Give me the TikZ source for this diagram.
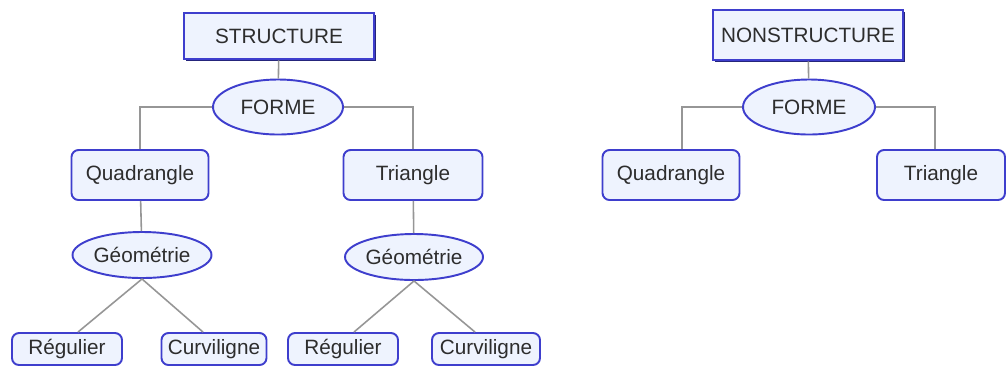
\documentclass[tikz,border=0pt]{standalone}
\usepackage{fontspec}
\setmainfont{Liberation Sans}
\usepackage{tikz}
\usetikzlibrary{shapes.geometric,shadows}

\definecolor{boxblue}{RGB}{62,62,205}
\definecolor{boxfill}{RGB}{238,243,254}
\definecolor{linegray}{RGB}{150,150,150}
\definecolor{textgray}{RGB}{45,45,45}

\begin{document}
\begin{tikzpicture}[x = 0.02cm, y = -0.02cm,
  every node/.style = {text = textgray, font = \fontsize{11.8}{14}\selectfont, inner sep = 0pt},
  headbox/.style = {draw = boxblue, line width = 1.6pt, fill = boxfill,
    drop shadow = {shadow xshift = 1.4pt, shadow yshift = -1.4pt, fill = boxblue!60!black, opacity = 1}},
  leafbox/.style = {draw = boxblue, line width = 1.1pt, fill = boxfill, rounded corners = 4pt},
  oval/.style = {ellipse, draw = boxblue, line width = 1.1pt, fill = boxfill},
  link/.style = {draw = linegray, line width = 0.9pt}]
\useasboundingbox (0,0) rectangle (1007,370);

% left tree
\node[headbox, minimum width = 190*0.02cm, minimum height = 46*0.02cm] (struct) at (279,36) {STRUCTURE};
\node[oval, minimum width = 130*0.02cm, minimum height = 55*0.02cm] (forme) at (278,107) {FORME};
\node[leafbox, minimum width = 137*0.02cm, minimum height = 50*0.02cm] (quad) at (140,175) {Quadrangle};
\node[leafbox, minimum width = 139*0.02cm, minimum height = 50*0.02cm] (tri) at (413,175) {Triangle};
\node[oval, minimum width = 139*0.02cm, minimum height = 46*0.02cm] (geoq) at (142,255) {Géométrie};
\node[oval, minimum width = 138*0.02cm, minimum height = 46*0.02cm] (geot) at (414,257) {Géométrie};
\node[leafbox, minimum width = 110*0.02cm, minimum height = 32*0.02cm] (regq) at (67,349) {Régulier};
\node[leafbox, minimum width = 105*0.02cm, minimum height = 32*0.02cm] (curq) at (214,349) {Curviligne};
\node[leafbox, minimum width = 110*0.02cm, minimum height = 32*0.02cm] (regt) at (343,349) {Régulier};
\node[leafbox, minimum width = 108*0.02cm, minimum height = 32*0.02cm] (curt) at (486,349) {Curviligne};

\draw[link] (struct) -- (forme);
\draw[link] (forme.west) -| (quad.north);
\draw[link] (forme.east) -| (tri.north);
\draw[link] (quad) -- (geoq);
\draw[link] (tri) -- (geot);
\draw[link] (geoq.south) -- ([xshift = 11*0.02cm]regq.north);
\draw[link] (geoq.south) -- ([xshift = -11*0.02cm]curq.north);
\draw[link] (geot.south) -- ([xshift = 11*0.02cm]regt.north);
\draw[link] (geot.south) -- ([xshift = -11*0.02cm]curt.north);

% right tree
\node[headbox, minimum width = 190*0.02cm, minimum height = 50*0.02cm] (nonstruct) at (808,35) {NONSTRUCTURE};
\node[oval, minimum width = 132*0.02cm, minimum height = 55*0.02cm] (forme2) at (809,107) {FORME};
\node[leafbox, minimum width = 137*0.02cm, minimum height = 50*0.02cm] (quad2) at (671,175) {Quadrangle};
\node[leafbox, minimum width = 128*0.02cm, minimum height = 50*0.02cm] (tri2) at (941,175) {Triangle};

\draw[link] (nonstruct) -- (forme2);
\draw[link] (forme2.west) -| ([xshift = 11*0.02cm]quad2.north);
\draw[link] (forme2.east) -| ([xshift = -6*0.02cm]tri2.north);
\end{tikzpicture}
\end{document}
